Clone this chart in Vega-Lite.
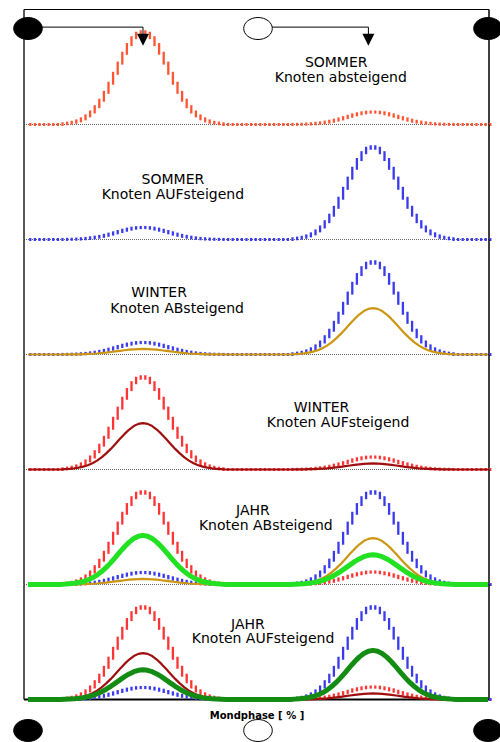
{
  "$schema": "https://vega.github.io/schema/vega-lite/v6.json",
  "padding": {"left": 11, "top": 8.5, "right": 0, "bottom": 0},
  "config": {"view": {"stroke": null}, "font": "DejaVu Sans"},
  "spacing": 0,
  "bounds": "flush",
  "datasets": {
    "kurven": [
      {"x":0,"SoAb":0,"SoAuf":0,"WiAb":0,"WiAuf":0,"JaAb":0,"JaAuf":0},
      {"x":1,"SoAb":0,"SoAuf":0,"WiAb":0,"WiAuf":0,"JaAb":0,"JaAuf":0},
      {"x":2,"SoAb":0,"SoAuf":0,"WiAb":0,"WiAuf":0,"JaAb":0,"JaAuf":0},
      {"x":3,"SoAb":0,"SoAuf":0,"WiAb":0,"WiAuf":0,"JaAb":0,"JaAuf":0},
      {"x":4,"SoAb":0,"SoAuf":0,"WiAb":0,"WiAuf":0,"JaAb":0,"JaAuf":0},
      {"x":5,"SoAb":0,"SoAuf":0,"WiAb":0,"WiAuf":0,"JaAb":0,"JaAuf":0},
      {"x":6,"SoAb":0,"SoAuf":0,"WiAb":0,"WiAuf":0,"JaAb":0,"JaAuf":0},
      {"x":7,"SoAb":0,"SoAuf":0,"WiAb":0,"WiAuf":0,"JaAb":0,"JaAuf":0},
      {"x":8,"SoAb":0.8,"SoAuf":0.1,"WiAb":0.1,"WiAuf":0.4,"JaAb":0.4,"JaAuf":0.3},
      {"x":9,"SoAb":1.5,"SoAuf":0.2,"WiAb":0.1,"WiAuf":0.7,"JaAb":0.8,"JaAuf":0.5},
      {"x":10,"SoAb":2.4,"SoAuf":0.3,"WiAb":0.1,"WiAuf":1.2,"JaAb":1.3,"JaAuf":0.8},
      {"x":11,"SoAb":3.9,"SoAuf":0.5,"WiAb":0.2,"WiAuf":2.0,"JaAb":2.1,"JaAuf":1.3},
      {"x":12,"SoAb":6.1,"SoAuf":0.8,"WiAb":0.4,"WiAuf":3.1,"JaAb":3.2,"JaAuf":2.0},
      {"x":13,"SoAb":9.3,"SoAuf":1.2,"WiAb":0.6,"WiAuf":4.6,"JaAb":4.9,"JaAuf":3.0},
      {"x":14,"SoAb":13.5,"SoAuf":1.8,"WiAb":0.8,"WiAuf":6.8,"JaAb":7.2,"JaAuf":4.3},
      {"x":15,"SoAb":19.2,"SoAuf":2.5,"WiAb":1.1,"WiAuf":9.6,"JaAb":10.1,"JaAuf":6.1},
      {"x":16,"SoAb":26.2,"SoAuf":3.4,"WiAb":1.6,"WiAuf":13.1,"JaAb":13.9,"JaAuf":8.4},
      {"x":17,"SoAb":34.7,"SoAuf":4.5,"WiAb":2.1,"WiAuf":17.4,"JaAb":18.4,"JaAuf":11.1},
      {"x":18,"SoAb":44.5,"SoAuf":5.8,"WiAb":2.7,"WiAuf":22.2,"JaAb":23.6,"JaAuf":14.2},
      {"x":19,"SoAb":55.2,"SoAuf":7.2,"WiAb":3.3,"WiAuf":27.6,"JaAb":29.2,"JaAuf":17.7},
      {"x":20,"SoAb":66.2,"SoAuf":8.6,"WiAb":4.0,"WiAuf":33.1,"JaAb":35.1,"JaAuf":21.2},
      {"x":21,"SoAb":76.8,"SoAuf":10.0,"WiAb":4.6,"WiAuf":38.4,"JaAb":40.7,"JaAuf":24.6},
      {"x":22,"SoAb":86.2,"SoAuf":11.2,"WiAb":5.2,"WiAuf":43.1,"JaAb":45.7,"JaAuf":27.6},
      {"x":23,"SoAb":93.6,"SoAuf":12.2,"WiAb":5.6,"WiAuf":46.8,"JaAb":49.6,"JaAuf":30.0},
      {"x":24,"SoAb":98.4,"SoAuf":12.8,"WiAb":5.9,"WiAuf":49.2,"JaAb":52.1,"JaAuf":31.5},
      {"x":25,"SoAb":100,"SoAuf":13,"WiAb":6,"WiAuf":50,"JaAb":53,"JaAuf":32},
      {"x":26,"SoAb":98.4,"SoAuf":12.8,"WiAb":5.9,"WiAuf":49.2,"JaAb":52.1,"JaAuf":31.5},
      {"x":27,"SoAb":93.6,"SoAuf":12.2,"WiAb":5.6,"WiAuf":46.8,"JaAb":49.6,"JaAuf":30.0},
      {"x":28,"SoAb":86.2,"SoAuf":11.2,"WiAb":5.2,"WiAuf":43.1,"JaAb":45.7,"JaAuf":27.6},
      {"x":29,"SoAb":76.8,"SoAuf":10.0,"WiAb":4.6,"WiAuf":38.4,"JaAb":40.7,"JaAuf":24.6},
      {"x":30,"SoAb":66.2,"SoAuf":8.6,"WiAb":4.0,"WiAuf":33.1,"JaAb":35.1,"JaAuf":21.2},
      {"x":31,"SoAb":55.2,"SoAuf":7.2,"WiAb":3.3,"WiAuf":27.6,"JaAb":29.2,"JaAuf":17.7},
      {"x":32,"SoAb":44.5,"SoAuf":5.8,"WiAb":2.7,"WiAuf":22.2,"JaAb":23.6,"JaAuf":14.2},
      {"x":33,"SoAb":34.7,"SoAuf":4.5,"WiAb":2.1,"WiAuf":17.4,"JaAb":18.4,"JaAuf":11.1},
      {"x":34,"SoAb":26.2,"SoAuf":3.4,"WiAb":1.6,"WiAuf":13.1,"JaAb":13.9,"JaAuf":8.4},
      {"x":35,"SoAb":19.2,"SoAuf":2.5,"WiAb":1.1,"WiAuf":9.6,"JaAb":10.1,"JaAuf":6.1},
      {"x":36,"SoAb":13.5,"SoAuf":1.8,"WiAb":0.8,"WiAuf":6.8,"JaAb":7.2,"JaAuf":4.3},
      {"x":37,"SoAb":9.3,"SoAuf":1.2,"WiAb":0.6,"WiAuf":4.6,"JaAb":4.9,"JaAuf":3.0},
      {"x":38,"SoAb":6.1,"SoAuf":0.8,"WiAb":0.4,"WiAuf":3.1,"JaAb":3.2,"JaAuf":2.0},
      {"x":39,"SoAb":3.9,"SoAuf":0.5,"WiAb":0.2,"WiAuf":2.0,"JaAb":2.1,"JaAuf":1.3},
      {"x":40,"SoAb":2.4,"SoAuf":0.3,"WiAb":0.1,"WiAuf":1.2,"JaAb":1.3,"JaAuf":0.8},
      {"x":41,"SoAb":1.5,"SoAuf":0.2,"WiAb":0.1,"WiAuf":0.7,"JaAb":0.8,"JaAuf":0.5},
      {"x":42,"SoAb":0.8,"SoAuf":0.1,"WiAb":0.1,"WiAuf":0.4,"JaAb":0.4,"JaAuf":0.3},
      {"x":43,"SoAb":0,"SoAuf":0,"WiAb":0,"WiAuf":0,"JaAb":0,"JaAuf":0},
      {"x":44,"SoAb":0,"SoAuf":0,"WiAb":0,"WiAuf":0,"JaAb":0,"JaAuf":0},
      {"x":45,"SoAb":0,"SoAuf":0,"WiAb":0,"WiAuf":0,"JaAb":0,"JaAuf":0},
      {"x":46,"SoAb":0,"SoAuf":0,"WiAb":0,"WiAuf":0,"JaAb":0,"JaAuf":0},
      {"x":47,"SoAb":0,"SoAuf":0,"WiAb":0,"WiAuf":0,"JaAb":0,"JaAuf":0},
      {"x":48,"SoAb":0,"SoAuf":0,"WiAb":0,"WiAuf":0,"JaAb":0,"JaAuf":0},
      {"x":49,"SoAb":0,"SoAuf":0,"WiAb":0,"WiAuf":0,"JaAb":0,"JaAuf":0},
      {"x":50,"SoAb":0,"SoAuf":0,"WiAb":0,"WiAuf":0,"JaAb":0,"JaAuf":0},
      {"x":51,"SoAb":0,"SoAuf":0,"WiAb":0,"WiAuf":0,"JaAb":0,"JaAuf":0},
      {"x":52,"SoAb":0,"SoAuf":0,"WiAb":0,"WiAuf":0,"JaAb":0,"JaAuf":0},
      {"x":53,"SoAb":0,"SoAuf":0,"WiAb":0,"WiAuf":0,"JaAb":0,"JaAuf":0},
      {"x":54,"SoAb":0,"SoAuf":0,"WiAb":0,"WiAuf":0,"JaAb":0,"JaAuf":0},
      {"x":55,"SoAb":0,"SoAuf":0,"WiAb":0,"WiAuf":0,"JaAb":0,"JaAuf":0},
      {"x":56,"SoAb":0,"SoAuf":0,"WiAb":0,"WiAuf":0,"JaAb":0,"JaAuf":0},
      {"x":57,"SoAb":0,"SoAuf":0,"WiAb":0,"WiAuf":0,"JaAb":0,"JaAuf":0},
      {"x":58,"SoAb":0.1,"SoAuf":0.8,"WiAb":0.4,"WiAuf":0.1,"JaAb":0.3,"JaAuf":0.4},
      {"x":59,"SoAb":0.2,"SoAuf":1.5,"WiAb":0.7,"WiAuf":0.1,"JaAb":0.5,"JaAuf":0.8},
      {"x":60,"SoAb":0.3,"SoAuf":2.4,"WiAb":1.2,"WiAuf":0.2,"JaAb":0.8,"JaAuf":1.3},
      {"x":61,"SoAb":0.5,"SoAuf":3.9,"WiAb":2.0,"WiAuf":0.3,"JaAb":1.3,"JaAuf":2.1},
      {"x":62,"SoAb":0.8,"SoAuf":6.1,"WiAb":3.1,"WiAuf":0.4,"JaAb":2.0,"JaAuf":3.2},
      {"x":63,"SoAb":1.3,"SoAuf":9.3,"WiAb":4.6,"WiAuf":0.6,"JaAb":3.0,"JaAuf":4.9},
      {"x":64,"SoAb":1.8,"SoAuf":13.5,"WiAb":6.8,"WiAuf":0.9,"JaAb":4.3,"JaAuf":7.2},
      {"x":65,"SoAb":2.6,"SoAuf":19.2,"WiAb":9.6,"WiAuf":1.2,"JaAb":6.1,"JaAuf":10.1},
      {"x":66,"SoAb":3.5,"SoAuf":26.2,"WiAb":13.1,"WiAuf":1.7,"JaAb":8.4,"JaAuf":13.9},
      {"x":67,"SoAb":4.7,"SoAuf":34.7,"WiAb":17.4,"WiAuf":2.3,"JaAb":11.1,"JaAuf":18.4},
      {"x":68,"SoAb":6.0,"SoAuf":44.5,"WiAb":22.2,"WiAuf":2.9,"JaAb":14.2,"JaAuf":23.6},
      {"x":69,"SoAb":7.4,"SoAuf":55.2,"WiAb":27.6,"WiAuf":3.6,"JaAb":17.7,"JaAuf":29.2},
      {"x":70,"SoAb":8.9,"SoAuf":66.2,"WiAb":33.1,"WiAuf":4.3,"JaAb":21.2,"JaAuf":35.1},
      {"x":71,"SoAb":10.4,"SoAuf":76.8,"WiAb":38.4,"WiAuf":5.0,"JaAb":24.6,"JaAuf":40.7},
      {"x":72,"SoAb":11.6,"SoAuf":86.2,"WiAb":43.1,"WiAuf":5.6,"JaAb":27.6,"JaAuf":45.7},
      {"x":73,"SoAb":12.6,"SoAuf":93.6,"WiAb":46.8,"WiAuf":6.1,"JaAb":30.0,"JaAuf":49.6},
      {"x":74,"SoAb":13.3,"SoAuf":98.4,"WiAb":49.2,"WiAuf":6.4,"JaAb":31.5,"JaAuf":52.1},
      {"x":75,"SoAb":13.5,"SoAuf":100,"WiAb":50,"WiAuf":6.5,"JaAb":32,"JaAuf":53},
      {"x":76,"SoAb":13.3,"SoAuf":98.4,"WiAb":49.2,"WiAuf":6.4,"JaAb":31.5,"JaAuf":52.1},
      {"x":77,"SoAb":12.6,"SoAuf":93.6,"WiAb":46.8,"WiAuf":6.1,"JaAb":30.0,"JaAuf":49.6},
      {"x":78,"SoAb":11.6,"SoAuf":86.2,"WiAb":43.1,"WiAuf":5.6,"JaAb":27.6,"JaAuf":45.7},
      {"x":79,"SoAb":10.4,"SoAuf":76.8,"WiAb":38.4,"WiAuf":5.0,"JaAb":24.6,"JaAuf":40.7},
      {"x":80,"SoAb":8.9,"SoAuf":66.2,"WiAb":33.1,"WiAuf":4.3,"JaAb":21.2,"JaAuf":35.1},
      {"x":81,"SoAb":7.4,"SoAuf":55.2,"WiAb":27.6,"WiAuf":3.6,"JaAb":17.7,"JaAuf":29.2},
      {"x":82,"SoAb":6.0,"SoAuf":44.5,"WiAb":22.2,"WiAuf":2.9,"JaAb":14.2,"JaAuf":23.6},
      {"x":83,"SoAb":4.7,"SoAuf":34.7,"WiAb":17.4,"WiAuf":2.3,"JaAb":11.1,"JaAuf":18.4},
      {"x":84,"SoAb":3.5,"SoAuf":26.2,"WiAb":13.1,"WiAuf":1.7,"JaAb":8.4,"JaAuf":13.9},
      {"x":85,"SoAb":2.6,"SoAuf":19.2,"WiAb":9.6,"WiAuf":1.2,"JaAb":6.1,"JaAuf":10.1},
      {"x":86,"SoAb":1.8,"SoAuf":13.5,"WiAb":6.8,"WiAuf":0.9,"JaAb":4.3,"JaAuf":7.2},
      {"x":87,"SoAb":1.3,"SoAuf":9.3,"WiAb":4.6,"WiAuf":0.6,"JaAb":3.0,"JaAuf":4.9},
      {"x":88,"SoAb":0.8,"SoAuf":6.1,"WiAb":3.1,"WiAuf":0.4,"JaAb":2.0,"JaAuf":3.2},
      {"x":89,"SoAb":0.5,"SoAuf":3.9,"WiAb":2.0,"WiAuf":0.3,"JaAb":1.3,"JaAuf":2.1},
      {"x":90,"SoAb":0.3,"SoAuf":2.4,"WiAb":1.2,"WiAuf":0.2,"JaAb":0.8,"JaAuf":1.3},
      {"x":91,"SoAb":0.2,"SoAuf":1.5,"WiAb":0.7,"WiAuf":0.1,"JaAb":0.5,"JaAuf":0.8},
      {"x":92,"SoAb":0.1,"SoAuf":0.8,"WiAb":0.4,"WiAuf":0.1,"JaAb":0.3,"JaAuf":0.4},
      {"x":93,"SoAb":0,"SoAuf":0,"WiAb":0,"WiAuf":0,"JaAb":0,"JaAuf":0},
      {"x":94,"SoAb":0,"SoAuf":0,"WiAb":0,"WiAuf":0,"JaAb":0,"JaAuf":0},
      {"x":95,"SoAb":0,"SoAuf":0,"WiAb":0,"WiAuf":0,"JaAb":0,"JaAuf":0},
      {"x":96,"SoAb":0,"SoAuf":0,"WiAb":0,"WiAuf":0,"JaAb":0,"JaAuf":0},
      {"x":97,"SoAb":0,"SoAuf":0,"WiAb":0,"WiAuf":0,"JaAb":0,"JaAuf":0},
      {"x":98,"SoAb":0,"SoAuf":0,"WiAb":0,"WiAuf":0,"JaAb":0,"JaAuf":0},
      {"x":99,"SoAb":0,"SoAuf":0,"WiAb":0,"WiAuf":0,"JaAb":0,"JaAuf":0},
      {"x":100,"SoAb":0,"SoAuf":0,"WiAb":0,"WiAuf":0,"JaAb":0,"JaAuf":0}
    ],
    "panels": [
      {"panel":1,"saison":"Sommer","knoten":"absteigend"},
      {"panel":2,"saison":"Sommer","knoten":"aufsteigend"},
      {"panel":3,"saison":"Winter","knoten":"absteigend"},
      {"panel":4,"saison":"Winter","knoten":"aufsteigend"},
      {"panel":5,"saison":"Jahr","knoten":"absteigend"},
      {"panel":6,"saison":"Jahr","knoten":"aufsteigend"}
    ],
    "beschriftung": [
      {"panel":1,"text":"SOMMER","x":67,"y":62.5},
      {"panel":1,"text":"Knoten absteigend","x":68,"y":45.5},
      {"panel":2,"text":"SOMMER","x":31.5,"y":60},
      {"panel":2,"text":"Knoten AUFsteigend","x":31.5,"y":43.5},
      {"panel":3,"text":"WINTER","x":28.5,"y":62},
      {"panel":3,"text":"Knoten ABsteigend","x":32.4,"y":44.5},
      {"panel":4,"text":"WINTER","x":63.8,"y":62.5},
      {"panel":4,"text":"Knoten AUFsteigend","x":67.4,"y":45.6},
      {"panel":5,"text":"JAHR","x":48.9,"y":75.2},
      {"panel":5,"text":"Knoten ABsteigend","x":51.7,"y":59},
      {"panel":6,"text":"JAHR","x":47.8,"y":76.2},
      {"panel":6,"text":"Knoten AUFsteigend","x":51.1,"y":60.7}
    ],
    "mondphasen": [
      {"phase":0,"mond":"Neumond"},
      {"phase":50,"mond":"Vollmond"},
      {"phase":100,"mond":"Neumond"}
    ],
    "pfeile": [
      {"von":0,"bis":25},
      {"von":50,"bis":74}
    ]
  },
  "vconcat": [
    {
      "width": 465, "height": 115,
      "layer": [
        {"data":{"name":"panels"},"transform":[{"filter":"datum.panel == 1"}],
         "mark":{"type":"rule","color":"#666666","strokeWidth":1,"strokeDash":[1,1]},
         "encoding":{"y":{"datum":0,"type":"quantitative","scale":{"domain":[0,124],"nice":false},"axis":null}}},
        {"data":{"name":"panels"},"transform":[{"filter":"datum.panel == 1"}],
         "mark":{"type":"rule","color":"#000000","strokeWidth":1},
         "encoding":{"y":{"datum":124,"type":"quantitative","scale":{"domain":[0,124],"nice":false},"axis":null}}},
        {"data":{"name":"panels"},"transform":[{"filter":"datum.panel == 1"}],
         "mark":{"type":"rule","color":"#222222","strokeWidth":1.5},
         "encoding":{"x":{"datum":-0.87,"type":"quantitative","scale":{"domain":[-0.87,100.22],"nice":false},"axis":null}}},
        {"data":{"name":"panels"},"transform":[{"filter":"datum.panel == 1"}],
         "mark":{"type":"rule","color":"#000000","strokeWidth":1.5},
         "encoding":{"x":{"datum":100.22,"type":"quantitative","scale":{"domain":[-0.87,100.22],"nice":false},"axis":null}}},
        {"data":{"name":"kurven"},
         "transform":[{"window":[{"op":"min","field":"SoAb","as":"lo"},{"op":"max","field":"SoAb","as":"hi"}],"sort":[{"field":"x"}],"frame":[0,1]}],
         "mark":{"type":"rule","color":"#ff5533","strokeWidth":2.3,"xOffset":2.3,"yOffset":1.5,"y2Offset":-1.5},
         "encoding":{"x":{"field":"x","type":"quantitative","scale":{"domain":[-0.87,100.22],"nice":false},"axis":null},
                     "y":{"field":"lo","type":"quantitative","scale":{"domain":[0,124],"nice":false},"axis":null},
                     "y2":{"field":"hi"}}},
        {"data":{"name":"pfeile"},
         "mark":{"type":"rule","color":"#000000","strokeWidth":1},
         "encoding":{"x":{"field":"von","type":"quantitative","scale":{"domain":[-0.87,100.22],"nice":false},"axis":null},
                     "x2":{"field":"bis"},
                     "y":{"datum":105,"type":"quantitative","scale":{"domain":[0,124],"nice":false},"axis":null}}},
        {"data":{"name":"pfeile"},
         "mark":{"type":"rule","color":"#000000","strokeWidth":1},
         "encoding":{"x":{"field":"bis","type":"quantitative","scale":{"domain":[-0.87,100.22],"nice":false},"axis":null},
                     "y":{"datum":105,"type":"quantitative","scale":{"domain":[0,124],"nice":false},"axis":null},
                     "y2":{"datum":93}}},
        {"data":{"name":"pfeile"},
         "mark":{"type":"point","filled":true,"opacity":1,"color":"#000000","size":144,"shape":"M-1,-1L1,-1L0,1Z"},
         "encoding":{"x":{"field":"bis","type":"quantitative","scale":{"domain":[-0.87,100.22],"nice":false},"axis":null},
                     "y":{"datum":91.5,"type":"quantitative","scale":{"domain":[0,124],"nice":false},"axis":null}}},
        {"data":{"name":"mondphasen"},
         "mark":{"type":"point","filled":true,"opacity":1,"size":484,"shape":"M-1.3,0A1.3,1 0 1,0 1.3,0A1.3,1 0 1,0 -1.3,0Z","stroke":"#000000","strokeWidth":1},
         "encoding":{"x":{"field":"phase","type":"quantitative","scale":{"domain":[-0.87,100.22],"nice":false},"axis":null},
                     "y":{"datum":103.5,"type":"quantitative","scale":{"domain":[0,124],"nice":false},"axis":null},
                     "fill":{"field":"mond","type":"nominal","scale":{"domain":["Neumond","Vollmond"],"range":["#000000","#ffffff"]},"legend":null}}},
        {"data":{"name":"beschriftung"},"transform":[{"filter":"datum.panel == 1"}],
         "mark":{"type":"text","font":"DejaVu Sans","fontSize":14,"align":"center","baseline":"alphabetic","color":"#000000"},
         "encoding":{"x":{"field":"x","type":"quantitative","scale":{"domain":[-0.87,100.22],"nice":false},"axis":null},
                     "y":{"field":"y","type":"quantitative","scale":{"domain":[0,124],"nice":false},"axis":null},
                     "text":{"field":"text"}}}
      ]
    },
    {
      "width": 465, "height": 115,
      "layer": [
        {"data":{"name":"panels"},"transform":[{"filter":"datum.panel == 2"}],
         "mark":{"type":"rule","color":"#666666","strokeWidth":1,"strokeDash":[1,1]},
         "encoding":{"y":{"datum":0,"type":"quantitative","scale":{"domain":[0,124],"nice":false},"axis":null}}},
        {"data":{"name":"panels"},"transform":[{"filter":"datum.panel == 2"}],
         "mark":{"type":"rule","color":"#222222","strokeWidth":1.5},
         "encoding":{"x":{"datum":-0.87,"type":"quantitative","scale":{"domain":[-0.87,100.22],"nice":false},"axis":null}}},
        {"data":{"name":"panels"},"transform":[{"filter":"datum.panel == 2"}],
         "mark":{"type":"rule","color":"#000000","strokeWidth":1.5},
         "encoding":{"x":{"datum":100.22,"type":"quantitative","scale":{"domain":[-0.87,100.22],"nice":false},"axis":null}}},
        {"data":{"name":"kurven"},
         "transform":[{"window":[{"op":"min","field":"SoAuf","as":"lo"},{"op":"max","field":"SoAuf","as":"hi"}],"sort":[{"field":"x"}],"frame":[0,1]}],
         "mark":{"type":"rule","color":"#3a3aee","strokeWidth":2.3,"xOffset":2.3,"yOffset":1.5,"y2Offset":-1.5},
         "encoding":{"x":{"field":"x","type":"quantitative","scale":{"domain":[-0.87,100.22],"nice":false},"axis":null},
                     "y":{"field":"lo","type":"quantitative","scale":{"domain":[0,124],"nice":false},"axis":null},
                     "y2":{"field":"hi"}}},
        {"data":{"name":"beschriftung"},"transform":[{"filter":"datum.panel == 2"}],
         "mark":{"type":"text","font":"DejaVu Sans","fontSize":14,"align":"center","baseline":"alphabetic","color":"#000000"},
         "encoding":{"x":{"field":"x","type":"quantitative","scale":{"domain":[-0.87,100.22],"nice":false},"axis":null},
                     "y":{"field":"y","type":"quantitative","scale":{"domain":[0,124],"nice":false},"axis":null},
                     "text":{"field":"text"}}}
      ]
    },
    {
      "width": 465, "height": 115,
      "layer": [
        {"data":{"name":"panels"},"transform":[{"filter":"datum.panel == 3"}],
         "mark":{"type":"rule","color":"#666666","strokeWidth":1,"strokeDash":[1,1]},
         "encoding":{"y":{"datum":0,"type":"quantitative","scale":{"domain":[0,124],"nice":false},"axis":null}}},
        {"data":{"name":"panels"},"transform":[{"filter":"datum.panel == 3"}],
         "mark":{"type":"rule","color":"#222222","strokeWidth":1.5},
         "encoding":{"x":{"datum":-0.87,"type":"quantitative","scale":{"domain":[-0.87,100.22],"nice":false},"axis":null}}},
        {"data":{"name":"panels"},"transform":[{"filter":"datum.panel == 3"}],
         "mark":{"type":"rule","color":"#000000","strokeWidth":1.5},
         "encoding":{"x":{"datum":100.22,"type":"quantitative","scale":{"domain":[-0.87,100.22],"nice":false},"axis":null}}},
        {"data":{"name":"kurven"},
         "transform":[{"window":[{"op":"min","field":"SoAuf","as":"lo"},{"op":"max","field":"SoAuf","as":"hi"}],"sort":[{"field":"x"}],"frame":[0,1]}],
         "mark":{"type":"rule","color":"#3a3aee","strokeWidth":2.3,"xOffset":2.3,"yOffset":1.5,"y2Offset":-1.5},
         "encoding":{"x":{"field":"x","type":"quantitative","scale":{"domain":[-0.87,100.22],"nice":false},"axis":null},
                     "y":{"field":"lo","type":"quantitative","scale":{"domain":[0,124],"nice":false},"axis":null},
                     "y2":{"field":"hi"}}},
        {"data":{"name":"kurven"},
         "mark":{"type":"line","color":"#cc9612","strokeWidth":2.2,"strokeJoin":"round"},
         "encoding":{"x":{"field":"x","type":"quantitative","scale":{"domain":[-0.87,100.22],"nice":false},"axis":null},
                     "y":{"field":"WiAb","type":"quantitative","scale":{"domain":[0,124],"nice":false},"axis":null}}},
        {"data":{"name":"beschriftung"},"transform":[{"filter":"datum.panel == 3"}],
         "mark":{"type":"text","font":"DejaVu Sans","fontSize":14,"align":"center","baseline":"alphabetic","color":"#000000"},
         "encoding":{"x":{"field":"x","type":"quantitative","scale":{"domain":[-0.87,100.22],"nice":false},"axis":null},
                     "y":{"field":"y","type":"quantitative","scale":{"domain":[0,124],"nice":false},"axis":null},
                     "text":{"field":"text"}}}
      ]
    },
    {
      "width": 465, "height": 115,
      "layer": [
        {"data":{"name":"panels"},"transform":[{"filter":"datum.panel == 4"}],
         "mark":{"type":"rule","color":"#666666","strokeWidth":1,"strokeDash":[1,1]},
         "encoding":{"y":{"datum":0,"type":"quantitative","scale":{"domain":[0,124],"nice":false},"axis":null}}},
        {"data":{"name":"panels"},"transform":[{"filter":"datum.panel == 4"}],
         "mark":{"type":"rule","color":"#222222","strokeWidth":1.5},
         "encoding":{"x":{"datum":-0.87,"type":"quantitative","scale":{"domain":[-0.87,100.22],"nice":false},"axis":null}}},
        {"data":{"name":"panels"},"transform":[{"filter":"datum.panel == 4"}],
         "mark":{"type":"rule","color":"#000000","strokeWidth":1.5},
         "encoding":{"x":{"datum":100.22,"type":"quantitative","scale":{"domain":[-0.87,100.22],"nice":false},"axis":null}}},
        {"data":{"name":"kurven"},
         "transform":[{"window":[{"op":"min","field":"SoAb","as":"lo"},{"op":"max","field":"SoAb","as":"hi"}],"sort":[{"field":"x"}],"frame":[0,1]}],
         "mark":{"type":"rule","color":"#ff3535","strokeWidth":2.3,"xOffset":2.3,"yOffset":1.5,"y2Offset":-1.5},
         "encoding":{"x":{"field":"x","type":"quantitative","scale":{"domain":[-0.87,100.22],"nice":false},"axis":null},
                     "y":{"field":"lo","type":"quantitative","scale":{"domain":[0,124],"nice":false},"axis":null},
                     "y2":{"field":"hi"}}},
        {"data":{"name":"kurven"},
         "mark":{"type":"line","color":"#a00f0f","strokeWidth":2.2,"strokeJoin":"round"},
         "encoding":{"x":{"field":"x","type":"quantitative","scale":{"domain":[-0.87,100.22],"nice":false},"axis":null},
                     "y":{"field":"WiAuf","type":"quantitative","scale":{"domain":[0,124],"nice":false},"axis":null}}},
        {"data":{"name":"beschriftung"},"transform":[{"filter":"datum.panel == 4"}],
         "mark":{"type":"text","font":"DejaVu Sans","fontSize":14,"align":"center","baseline":"alphabetic","color":"#000000"},
         "encoding":{"x":{"field":"x","type":"quantitative","scale":{"domain":[-0.87,100.22],"nice":false},"axis":null},
                     "y":{"field":"y","type":"quantitative","scale":{"domain":[0,124],"nice":false},"axis":null},
                     "text":{"field":"text"}}}
      ]
    },
    {
      "width": 465, "height": 115,
      "layer": [
        {"data":{"name":"panels"},"transform":[{"filter":"datum.panel == 5"}],
         "mark":{"type":"rule","color":"#666666","strokeWidth":1,"strokeDash":[1,1]},
         "encoding":{"y":{"datum":0,"type":"quantitative","scale":{"domain":[0,124],"nice":false},"axis":null}}},
        {"data":{"name":"panels"},"transform":[{"filter":"datum.panel == 5"}],
         "mark":{"type":"rule","color":"#222222","strokeWidth":1.5},
         "encoding":{"x":{"datum":-0.87,"type":"quantitative","scale":{"domain":[-0.87,100.22],"nice":false},"axis":null}}},
        {"data":{"name":"panels"},"transform":[{"filter":"datum.panel == 5"}],
         "mark":{"type":"rule","color":"#000000","strokeWidth":1.5},
         "encoding":{"x":{"datum":100.22,"type":"quantitative","scale":{"domain":[-0.87,100.22],"nice":false},"axis":null}}},
        {"data":{"name":"kurven"},
         "transform":[{"window":[{"op":"min","field":"SoAb","as":"lo"},{"op":"max","field":"SoAb","as":"hi"}],"sort":[{"field":"x"}],"frame":[0,1]}],
         "mark":{"type":"rule","color":"#ff3535","strokeWidth":2.3,"xOffset":2.3,"yOffset":1.5,"y2Offset":-1.5},
         "encoding":{"x":{"field":"x","type":"quantitative","scale":{"domain":[-0.87,100.22],"nice":false},"axis":null},
                     "y":{"field":"lo","type":"quantitative","scale":{"domain":[0,124],"nice":false},"axis":null},
                     "y2":{"field":"hi"}}},
        {"data":{"name":"kurven"},
         "transform":[{"window":[{"op":"min","field":"SoAuf","as":"lo"},{"op":"max","field":"SoAuf","as":"hi"}],"sort":[{"field":"x"}],"frame":[0,1]}],
         "mark":{"type":"rule","color":"#3a3aee","strokeWidth":2.3,"xOffset":2.3,"yOffset":1.5,"y2Offset":-1.5},
         "encoding":{"x":{"field":"x","type":"quantitative","scale":{"domain":[-0.87,100.22],"nice":false},"axis":null},
                     "y":{"field":"lo","type":"quantitative","scale":{"domain":[0,124],"nice":false},"axis":null},
                     "y2":{"field":"hi"}}},
        {"data":{"name":"kurven"},
         "mark":{"type":"line","color":"#cc9612","strokeWidth":2.2,"strokeJoin":"round"},
         "encoding":{"x":{"field":"x","type":"quantitative","scale":{"domain":[-0.87,100.22],"nice":false},"axis":null},
                     "y":{"field":"WiAb","type":"quantitative","scale":{"domain":[0,124],"nice":false},"axis":null}}},
        {"data":{"name":"kurven"},
         "mark":{"type":"line","color":"#22e022","strokeWidth":5,"strokeJoin":"round"},
         "encoding":{"x":{"field":"x","type":"quantitative","scale":{"domain":[-0.87,100.22],"nice":false},"axis":null},
                     "y":{"field":"JaAb","type":"quantitative","scale":{"domain":[0,124],"nice":false},"axis":null}}},
        {"data":{"name":"beschriftung"},"transform":[{"filter":"datum.panel == 5"}],
         "mark":{"type":"text","font":"DejaVu Sans","fontSize":14,"align":"center","baseline":"alphabetic","color":"#000000"},
         "encoding":{"x":{"field":"x","type":"quantitative","scale":{"domain":[-0.87,100.22],"nice":false},"axis":null},
                     "y":{"field":"y","type":"quantitative","scale":{"domain":[0,124],"nice":false},"axis":null},
                     "text":{"field":"text"}}}
      ]
    },
    {
      "width": 465, "height": 115,
      "resolve": {"axis": {"x": "independent"}},
      "layer": [
        {"data":{"name":"panels"},"transform":[{"filter":"datum.panel == 6"}],
         "mark":{"type":"rule","color":"#000000","strokeWidth":2},
         "encoding":{"y":{"datum":0,"type":"quantitative","scale":{"domain":[0,124],"nice":false},"axis":null}}},
        {"data":{"name":"panels"},"transform":[{"filter":"datum.panel == 6"}],
         "mark":{"type":"rule","color":"#222222","strokeWidth":1.5},
         "encoding":{"x":{"datum":-0.87,"type":"quantitative","scale":{"domain":[-0.87,100.22],"nice":false},"axis":null}}},
        {"data":{"name":"panels"},"transform":[{"filter":"datum.panel == 6"}],
         "mark":{"type":"rule","color":"#000000","strokeWidth":1.5},
         "encoding":{"x":{"datum":100.22,"type":"quantitative","scale":{"domain":[-0.87,100.22],"nice":false},"axis":null}}},
        {"data":{"name":"kurven"},
         "transform":[{"window":[{"op":"min","field":"SoAb","as":"lo"},{"op":"max","field":"SoAb","as":"hi"}],"sort":[{"field":"x"}],"frame":[0,1]}],
         "mark":{"type":"rule","color":"#ff3535","strokeWidth":2.3,"xOffset":2.3,"yOffset":1.5,"y2Offset":-1.5},
         "encoding":{"x":{"field":"x","type":"quantitative","scale":{"domain":[-0.87,100.22],"nice":false},"axis":null},
                     "y":{"field":"lo","type":"quantitative","scale":{"domain":[0,124],"nice":false},"axis":null},
                     "y2":{"field":"hi"}}},
        {"data":{"name":"kurven"},
         "transform":[{"window":[{"op":"min","field":"SoAuf","as":"lo"},{"op":"max","field":"SoAuf","as":"hi"}],"sort":[{"field":"x"}],"frame":[0,1]}],
         "mark":{"type":"rule","color":"#3a3aee","strokeWidth":2.3,"xOffset":2.3,"yOffset":1.5,"y2Offset":-1.5},
         "encoding":{"x":{"field":"x","type":"quantitative","scale":{"domain":[-0.87,100.22],"nice":false},"axis":null},
                     "y":{"field":"lo","type":"quantitative","scale":{"domain":[0,124],"nice":false},"axis":null},
                     "y2":{"field":"hi"}}},
        {"data":{"name":"kurven"},
         "mark":{"type":"line","color":"#a00f0f","strokeWidth":2.2,"strokeJoin":"round"},
         "encoding":{"x":{"field":"x","type":"quantitative","scale":{"domain":[-0.87,100.22],"nice":false},"axis":null},
                     "y":{"field":"WiAuf","type":"quantitative","scale":{"domain":[0,124],"nice":false},"axis":null}}},
        {"data":{"name":"kurven"},
         "mark":{"type":"line","color":"#148c14","strokeWidth":5,"strokeJoin":"round"},
         "encoding":{"x":{"field":"x","type":"quantitative","scale":{"domain":[-0.87,100.22],"nice":false},
                          "axis":{"title":"Mondphase [ % ]","domain":false,"ticks":false,"labels":false,"grid":false,"titleFont":"DejaVu Sans","titleFontSize":10,"titleFontWeight":"bold","titleColor":"#000000","titlePadding":11}},
                     "y":{"field":"JaAuf","type":"quantitative","scale":{"domain":[0,124],"nice":false},"axis":null}}},
        {"data":{"name":"beschriftung"},"transform":[{"filter":"datum.panel == 6"}],
         "mark":{"type":"text","font":"DejaVu Sans","fontSize":14,"align":"center","baseline":"alphabetic","color":"#000000"},
         "encoding":{"x":{"field":"x","type":"quantitative","scale":{"domain":[-0.87,100.22],"nice":false},"axis":null},
                     "y":{"field":"y","type":"quantitative","scale":{"domain":[0,124],"nice":false},"axis":null},
                     "text":{"field":"text"}}}
      ]
    },
    {
      "width": 465, "height": 62,
      "data": {"name":"mondphasen"},
      "mark": {"type":"point","filled":true,"opacity":1,"size":484,"shape":"M-1.3,0A1.3,1 0 1,0 1.3,0A1.3,1 0 1,0 -1.3,0Z","stroke":"#000000","strokeWidth":1},
      "encoding": {
        "x": {"field":"phase","type":"quantitative","scale":{"domain":[-0.87,100.22],"nice":false},"axis":null},
        "fill": {"field":"mond","type":"nominal","scale":{"domain":["Neumond","Vollmond"],"range":["#000000","#ffffff"]},"legend":null}
      }
    }
  ]
}
